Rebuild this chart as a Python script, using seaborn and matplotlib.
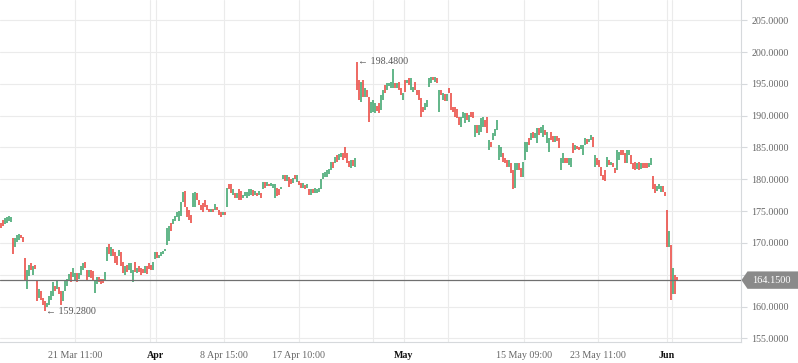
import numpy as np
import pandas as pd
import matplotlib
matplotlib.use("Agg")
import matplotlib.pyplot as plt
import matplotlib.transforms as mtransforms
from matplotlib.patches import Polygon
import seaborn as sns

# ---------------- data (hourly candles, open / close) ----------------
mar_open = [173.2, 173.6, 173.0, 173.2, 173.5, 173.3, 170.8, 169.3, 170.2, 170.5,
            171.2, 170.9, 167.7, 162.7, 164.8, 166.8, 165.0, 166.6, 164.0, 161.4,
            162.4, 161.4, 160.8, 159.9, 160.2, 161.1, 161.6, 163.2, 162.8, 163.0,
            162.4, 160.8, 162.4, 163.2, 164.0, 165.5, 164.6, 164.2, 165.3, 164.4,
            165.0, 165.8, 167.0, 165.8, 164.7, 165.8, 165.6, 162.2, 163.5, 164.6,
            164.4, 164.3, 164.0, 167.1, 169.8, 167.9, 169.0, 168.5, 167.9, 167.9,
            168.5, 167.0, 165.0, 166.6, 165.8, 165.3, 163.8, 167.0, 165.3, 166.4,
            166.1, 165.9, 165.3, 166.3, 166.8, 166.6, 165.8, 167.4]
mar_close = [172.4, 172.6, 173.9, 174.1, 174.2, 174.1, 168.3, 170.8, 171.3, 171.4,
             170.8, 170.1, 164.2, 165.8, 166.6, 165.8, 166.4, 165.9, 160.8, 162.7,
             161.1, 160.3, 159.28, 160.6, 161.6, 162.4, 163.8, 162.4, 164.0, 161.9,
             160.3, 162.4, 164.0, 164.3, 165.1, 163.8, 166.1, 165.3, 163.8, 165.3,
             166.3, 166.8, 166.1, 164.2, 165.8, 164.5, 164.2, 164.2, 164.7, 163.9,
             163.6, 163.7, 165.5, 169.3, 168.2, 169.3, 167.9, 166.9, 166.6, 168.9,
             166.3, 165.3, 166.3, 165.5, 166.9, 166.9, 165.8, 165.5, 166.1, 165.4,
             165.0, 165.2, 166.4, 165.1, 165.9, 165.8, 167.0, 168.6]

apr_open = [168.6, 167.7, 167.9, 168.2, 168.8, 169.7, 170.3, 173.2, 172.9, 173.4,
            174.0, 173.4, 174.2, 176.4, 178.1, 175.7, 175.2, 174.4, 175.7, 175.7,
            177.9, 176.8, 176.0, 176.3, 176.8, 176.0, 175.3, 174.9, 175.4, 175.2,
            175.7, 175.2, 174.9, 174.4, 174.9, 175.7, 179.2, 179.2, 177.6, 177.9,
            177.1, 178.4, 178.1, 177.1, 177.4, 177.1, 177.3, 177.6, 178.3, 177.6,
            177.9, 177.6, 177.9, 178.4, 179.6, 179.0, 179.3, 178.9, 178.7, 177.1,
            178.7, 178.4, 178.4, 180.0, 180.6, 179.8, 180.4, 180.0, 179.4, 180.6,
            179.5, 179.7, 179.4, 178.7, 179.1, 178.7, 178.4, 177.6, 178.4, 177.9,
            177.9, 178.0, 178.4, 180.0, 180.3, 180.3, 180.8, 181.5, 182.7, 182.6,
            183.8, 183.0, 183.5, 184.2, 185.1, 184.2, 182.9, 181.8, 183.0, 182.0,
            198.48, 195.6, 192.1, 195.6, 192.9, 194.0, 192.9, 190.4, 190.6, 190.4,
            191.6, 192.0, 190.9, 192.5, 194.8, 194.0, 194.6, 194.3, 194.3, 195.1,
            194.3, 195.3, 194.3, 192.5]
apr_close = [167.7, 168.1, 168.6, 168.8, 169.1, 172.4, 172.6, 171.8, 173.8, 174.2,
             174.9, 175.0, 176.4, 178.0, 175.6, 174.0, 173.6, 173.2, 177.9, 178.0,
             176.8, 176.0, 175.2, 174.9, 175.6, 175.2, 174.9, 175.3, 174.9, 176.1,
             175.1, 174.4, 174.1, 174.9, 174.4, 178.6, 178.4, 177.9, 178.4, 177.1,
             177.9, 176.8, 176.8, 177.6, 178.0, 178.0, 178.4, 178.4, 177.4, 178.1,
             177.4, 178.1, 177.1, 179.5, 178.7, 179.5, 179.0, 179.4, 179.2, 179.2,
             177.4, 177.6, 178.8, 180.7, 179.8, 180.6, 178.8, 179.2, 180.2, 180.0,
             180.7, 179.1, 178.7, 179.4, 178.4, 179.2, 177.6, 178.4, 177.9, 178.7,
             178.4, 178.7, 180.1, 181.0, 181.2, 181.5, 181.6, 182.7, 181.7, 183.5,
             182.7, 184.0, 184.2, 183.0, 183.4, 182.6, 182.0, 183.0, 182.1, 183.4,
             194.0, 192.5, 195.3, 192.9, 194.3, 193.0, 189.0, 192.1, 192.5, 192.0,
             190.8, 190.4, 193.2, 194.0, 193.6, 195.1, 195.1, 195.3, 197.3, 194.3,
             195.1, 194.0, 193.2, 193.6]

may_open = [195.6, 195.1, 195.9, 194.0, 193.7, 195.3, 194.0, 194.0, 192.8, 191.4,
            190.9, 191.4, 194.5, 195.1, 196.1, 195.3, 195.9, 190.6, 194.0, 192.5,
            193.4, 192.3, 194.3, 193.6, 191.4, 191.4, 191.1, 189.8, 188.2, 189.6,
            188.8, 190.4, 189.0, 190.6, 190.6, 186.7, 188.5, 187.0, 187.4, 188.2,
            189.3, 189.8, 184.6, 185.9, 186.2, 186.8, 187.8, 183.0, 183.5, 184.2,
            183.4, 183.1, 182.0, 182.6, 181.5, 178.7, 181.5, 182.6, 181.8, 180.3,
            183.0, 184.3, 186.5, 186.2, 187.4, 186.5, 185.7, 188.1, 187.3, 186.7,
            187.8, 185.7, 184.3, 187.5, 186.8, 185.9, 186.8, 186.5, 181.5, 182.6,
            183.4, 183.4, 182.3, 182.0, 185.7, 184.6, 185.3, 185.1, 184.7, 183.8,
            185.4, 186.4, 185.9, 186.2, 186.7, 182.0, 183.4, 183.1, 182.0, 180.7,
            181.5, 182.0, 183.1, 182.3, 182.6, 181.8, 181.5, 183.1, 184.6, 184.6,
            184.2, 182.6, 183.8, 183.8, 182.6, 182.7, 181.6, 182.7, 181.6, 182.6,
            182.6, 182.6, 182.0, 182.3, 180.5, 179.2, 178.1, 178.4, 178.0, 179.0,
            178.0]
may_close = [193.7, 195.6, 194.8, 195.9, 194.5, 194.0, 193.2, 192.5, 189.8, 190.6,
             192.0, 192.5, 195.9, 196.1, 195.6, 196.1, 195.1, 194.0, 193.2, 193.6,
             192.3, 193.4, 193.6, 190.9, 190.6, 189.8, 189.6, 188.5, 189.8, 190.6,
             190.4, 189.3, 190.1, 189.8, 189.6, 188.5, 187.3, 188.5, 189.6, 189.8,
             188.2, 187.3, 186.2, 185.1, 187.3, 187.9, 189.3, 185.4, 185.0, 182.7,
             182.6, 182.0, 183.1, 181.0, 178.4, 182.6, 182.6, 181.5, 180.3, 182.7,
             185.9, 185.9, 185.4, 187.3, 186.5, 187.3, 188.1, 186.9, 188.2, 188.5,
             186.9, 187.4, 186.5, 186.2, 185.9, 186.8, 186.0, 184.9, 183.4, 184.2,
             182.6, 182.6, 183.4, 183.4, 184.2, 185.4, 184.8, 184.6, 185.4, 185.4,
             186.5, 185.5, 186.4, 186.9, 185.1, 183.8, 182.3, 182.0, 180.5, 179.9,
             179.8, 183.5, 182.3, 182.7, 181.9, 181.0, 184.6, 184.3, 183.8, 183.8,
             182.6, 184.6, 184.6, 182.4, 181.6, 181.5, 182.6, 181.5, 182.6, 181.8,
             181.8, 181.8, 182.6, 183.4, 178.4, 177.9, 179.0, 179.3, 179.0, 178.0,
             177.3]

jun_open = [175.1, 169.4, 169.6, 161.9, 165.0, 164.7]
jun_close = [169.4, 171.8, 161.1, 166.1, 162.0, 164.15]

last_price = 164.15

y_ticks = [155, 160, 165, 170, 175, 180, 185, 190, 195, 200, 205]
x_tick_pos = [37.25, 77.6, 111.75, 149.25, 201.75, 261.75, 298.75, 333.25]
x_tick_labels = ["21 Mar 11:00", "Apr", "8 Apr 15:00", "17 Apr 10:00",
                 "May", "15 May 09:00", "23 May 11:00", "Jun"]
x_minor_pos = [74.75, 186.25, 223.75, 335.75]
month_labels = ["Apr", "May", "Jun"]

# ---------------- styling ----------------
sns.set_style("white")
plt.rcParams['font.family'] = ['Liberation Serif', 'DejaVu Sans']

UP = '#3fa56e'
DOWN = '#ea4740'
GRID = '#ebebeb'
AXC = '#d6d9dc'
TXT = '#666666'

opens = np.array(mar_open + apr_open + may_open + jun_open)
closes = np.array(mar_close + apr_close + may_close + jun_close)
df = pd.DataFrame({'idx': np.arange(len(opens)), 'open': opens, 'close': closes})
df['up'] = df['close'] >= df['open']
df['low'] = df[['open', 'close']].min(axis=1)
df['high'] = df[['open', 'close']].max(axis=1)

W, H = 798, 363
YMIN, YMAX = 154.42, 208.19
fig = plt.figure(figsize=(W / 100, H / 100), dpi=100)
ax = fig.add_axes([0, 21 / H, 741 / W, 342 / H])

ax.vlines(df['idx'], df['low'], df['high'], colors=np.where(df['up'], UP, DOWN),
          linewidth=1.15, zorder=3)

ax.set_xlim(-0.25, 370.25)
ax.set_ylim(YMIN, YMAX)

# grid
ax.set_axisbelow(True)
ax.set_xticks(x_tick_pos)
ax.set_xticklabels(x_tick_labels)
ax.set_xticks(x_minor_pos, minor=True)
ax.grid(which='both', axis='both', color=GRID, linewidth=0.8)

ax.tick_params(axis='x', which='both', length=4, color=AXC, width=0.8,
               pad=2.5, labelsize=7.2, labelcolor=TXT)
for lab in ax.get_xticklabels():
    if lab.get_text() in month_labels:
        lab.set_color('#111111')
        lab.set_fontweight('bold')

# y labels (the one hidden under the last-price tag is left blank)
px_per_unit = 342 / (YMAX - YMIN)
hh = 8.7 / px_per_unit
ax.yaxis.tick_right()
ax.set_yticks(y_ticks)
ax.set_yticklabels([("" if abs(v - last_price) < 2.2 * hh else f"{v:.4f}")
                    for v in y_ticks])
ax.tick_params(axis='y', length=4, color=AXC, width=0.8, pad=3.6,
               labelsize=7.2, labelcolor=TXT)

for s in ['top', 'left']:
    ax.spines[s].set_visible(False)
for s in ['right', 'bottom']:
    ax.spines[s].set_color(AXC)
    ax.spines[s].set_linewidth(0.8)

# last price line + label
ax.axhline(last_price, color='#707070', linewidth=0.9, zorder=4)
trans = mtransforms.blended_transform_factory(fig.transFigure, ax.transData)
tip, body = 741.5 / W, 747.5 / W
poly = Polygon([(tip, last_price), (body, last_price + hh), (1.0, last_price + hh),
                (1.0, last_price - hh), (body, last_price - hh)],
               closed=True, transform=trans, facecolor='#8a8a8a', edgecolor='none',
               clip_on=False, zorder=5)
fig.add_artist(poly)
fig.text(752 / W, last_price, f"{last_price:.4f}", transform=trans, color='white',
         fontsize=7.4, va='center', ha='left', zorder=6)

# high / low markers
i_hi, v_hi = int(df['high'].idxmax()), float(df['high'].max())
i_lo, v_lo = int(df['low'].idxmin()), float(df['low'].min())
ax.text(i_hi + 1.0, v_hi, f"\u2190 {v_hi:.4f}", fontsize=7.2, color='#555555',
        va='center', ha='left', zorder=5)
ax.text(i_lo + 1.0, v_lo, f"\u2190 {v_lo:.4f}", fontsize=7.2, color='#555555',
        va='center', ha='left', zorder=5)

fig.savefig("out.png", dpi=100)
